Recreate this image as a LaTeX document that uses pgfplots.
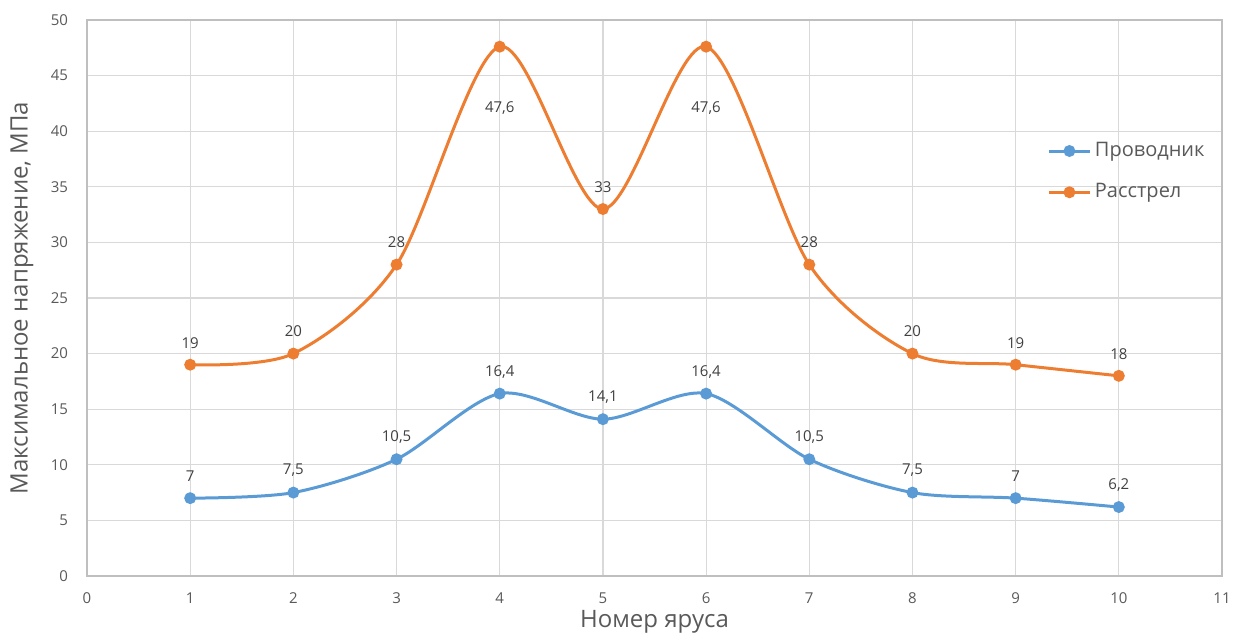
\documentclass[border=0pt]{standalone}
\usepackage{pgfplots}
\pgfplotsset{compat=1.18}
\usepackage{pgfplotstable}
\usepackage{fontspec}
\setmainfont{Open Sans}
\definecolor{cblue}{HTML}{5B9BD5}
\definecolor{corange}{HTML}{ED7D31}
\definecolor{cgrid}{HTML}{D9D9D9}
\definecolor{caxis}{HTML}{BFBFBF}
\definecolor{ctxt}{HTML}{595959}
\definecolor{clab}{HTML}{404040}

\pgfplotstableread{
x y s
1 7 11
2 7.5 11
3 10.5 11
4 16.4 11
5 14.1 11
6 16.4 11
7 10.5 11
8 7.5 11
9 7 11
10 6.2 11
}\provod

\pgfplotstableread{
x y s
1 19 11
2 20 11
3 28 11
4 47.6 -30.5
5 33 11
6 47.6 -30.5
7 28 11
8 20 11
9 19 11
10 18 11
}\rasstrel

\begin{document}
\begin{tikzpicture}
\begin{axis}[
  at={(0,0)}, anchor=south west,
  scale only axis, width=567.5pt, height=278pt,
  xmin=0, xmax=11, ymin=0, ymax=50,
  xtick={0,...,11}, ytick={0,5,...,50},
  grid=major, major grid style={draw=cgrid, line width=0.6pt},
  axis line style={draw=caxis, line width=0.7pt},
  tick style={draw=none},
  /pgf/number format/assume math mode=true,
  ticklabel style={font=\fontsize{7.5}{9}\selectfont, text=ctxt},
  yticklabel style={xshift=-6pt},
  xticklabel style={yshift=-5pt},
  every axis x label/.style={at={(axis description cs:0.5,0)}, anchor=center, yshift=-23pt, font=\fontsize{12}{14}\selectfont, text=ctxt},
  every axis y label/.style={at={(axis description cs:-0.0573,0.5)}, anchor=center, rotate=90, font=\fontsize{12}{14}\selectfont, text=ctxt},
  xlabel={Номер яруса},
  ylabel={Максимальное напряжение, МПа},
  legend style={at={(0.841,0.795)}, anchor=north west, draw=none, fill=none,
    font=\fontsize{10}{12}\selectfont, text=ctxt, row sep=8pt,
    /tikz/every even column/.append style={column sep=2pt}},
  legend cell align=left,
  legend image code/.code={\draw[mark repeat=2,mark phase=2,#1] plot coordinates {(0pt,0pt) (10pt,0pt) (20pt,0pt)};},
  every axis plot/.append style={line width=1.5pt, mark=*, mark size=2.2pt, smooth, tension=0.5},
]
\addplot[color=cblue, mark options={fill=cblue, draw=cblue, solid},
  visualization depends on={\thisrow{s} \as \labelshift},
  nodes near coords={\pgfmathprintnumber[use comma, assume math mode=true]{\pgfplotspointmeta}},
  every node near coord/.style={anchor=center, yshift=\labelshift, font=\fontsize{7.5}{9}\selectfont, text=clab}]
  table[x=x, y=y] {\provod};
\addlegendentry{Проводник}
\addplot[color=corange, mark options={fill=corange, draw=corange, solid},
  visualization depends on={\thisrow{s} \as \labelshift},
  nodes near coords={\pgfmathprintnumber[use comma, assume math mode=true]{\pgfplotspointmeta}},
  every node near coord/.style={anchor=center, yshift=\labelshift, font=\fontsize{7.5}{9}\selectfont, text=clab}]
  table[x=x, y=y] {\rasstrel};
\addlegendentry{Расстрел}
\end{axis}
\pgfresetboundingbox
\path (-43.5pt,-29.5pt) rectangle (574pt,288pt);
\end{tikzpicture}
\end{document}
